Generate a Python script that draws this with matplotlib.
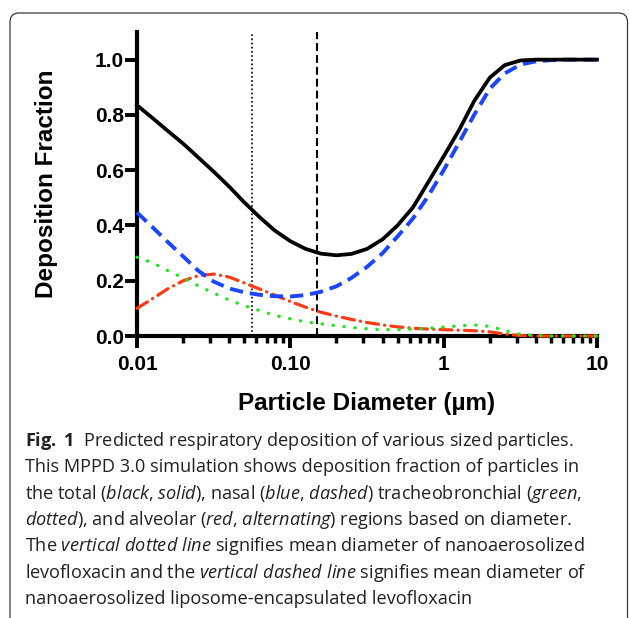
import matplotlib
matplotlib.use('Agg')
import matplotlib.pyplot as plt
from matplotlib.patches import FancyBboxPatch
from matplotlib.ticker import LogLocator, NullFormatter
import numpy as np

plt.rcParams['font.family'] = 'Liberation Sans'
plt.rcParams['mathtext.fontset'] = 'custom'
plt.rcParams['mathtext.rm'] = 'Open Sans'
plt.rcParams['mathtext.it'] = 'Open Sans:italic'
plt.rcParams['mathtext.bf'] = 'Open Sans:bold'

#### data
diam = [0.01, 0.0126, 0.0158, 0.02, 0.025, 0.0316, 0.04, 0.05, 0.063, 0.079,
        0.1, 0.126, 0.158, 0.2, 0.25, 0.316, 0.4, 0.5, 0.63, 0.79,
        1.0, 1.26, 1.58, 2.0, 2.5, 3.16, 4.0, 5.0, 6.3, 7.9, 10.0]

total = [0.835, 0.789, 0.743, 0.696, 0.647, 0.595, 0.540, 0.484, 0.430, 0.382,
         0.343, 0.315, 0.298, 0.292, 0.297, 0.315, 0.350, 0.400, 0.465, 0.555,
         0.650, 0.745, 0.850, 0.935, 0.980, 0.997, 1.0, 1.0, 1.0, 1.0, 1.0]

nasal = [0.447, 0.394, 0.341, 0.288, 0.237, 0.197, 0.172, 0.158, 0.149, 0.144,
         0.143, 0.148, 0.160, 0.180, 0.210, 0.250, 0.300, 0.360, 0.425, 0.505,
         0.600, 0.700, 0.800, 0.895, 0.950, 0.982, 0.994, 0.998, 1.0, 1.0, 1.0]

tracheo = [0.285, 0.265, 0.237, 0.21, 0.182, 0.155, 0.13, 0.11, 0.092, 0.075,
           0.062, 0.051, 0.044, 0.037, 0.031, 0.026, 0.023, 0.023, 0.025, 0.028,
           0.032, 0.037, 0.04, 0.035, 0.02, 0.006, 0.002, 0.0, 0.0, 0.0, 0.0]

alveolar = [0.10, 0.135, 0.17, 0.20, 0.218, 0.224, 0.213, 0.192, 0.17, 0.148,
            0.125, 0.104, 0.086, 0.072, 0.06, 0.049, 0.04, 0.033, 0.028, 0.025,
            0.023, 0.021, 0.019, 0.015, 0.007, 0.002, 0.0, 0.0, 0.0, 0.0, 0.0]

d_nano = 0.056   # nanoaerosolized levofloxacin (dotted)
d_lipo = 0.15    # liposome-encapsulated (dashed)

xtick_vals = [0.01, 0.1, 1, 10]
xtick_labels = ['0.01', '0.10', '1', '10']
ytick_vals = [0.0, 0.2, 0.4, 0.6, 0.8, 1.0]
ytick_labels = ['0.0', '0.2', '0.4', '0.6', '0.8', '1.0']

caption = [
    r"$\mathbf{Fig.}$ $\mathbf{1}$  Predicted respiratory deposition of various sized particles.",
    "This MPPD 3.0 simulation shows deposition fraction of particles in",
    r"the total ($\mathit{black}$, $\mathit{solid}$), nasal ($\mathit{blue}$, $\mathit{dashed}$) tracheobronchial ($\mathit{green}$,",
    r"$\mathit{dotted}$), and alveolar ($\mathit{red}$, $\mathit{alternating}$) regions based on diameter.",
    r"The $\mathit{vertical\ dotted\ line}$ signifies mean diameter of nanoaerosolized",
    r"levofloxacin and the $\mathit{vertical\ dashed\ line}$ signifies mean diameter of",
    "nanoaerosolized liposome-encapsulated levofloxacin",
]

W, H = 629, 618
fig = plt.figure(figsize=(W/100, H/100), dpi=100)
ax = fig.add_axes([137/W, 1-336/H, 460/W, 304/H])

ax.axvline(d_nano, color='k', lw=1.2, ls=(0, (1, 1.5)), zorder=1)
ax.axvline(d_lipo, color='k', lw=1.5, ls=(0, (3.8, 1.9)), zorder=1)

ax.plot(diam, alveolar, color='#ff3a14', lw=2.3, ls=(0, (3.8, 1.9, 0.1, 1.9)),
        dash_capstyle='round', clip_on=False, zorder=3)
ax.plot(diam, tracheo, color='#1fe61f', lw=2.4, ls=(0, (0.1, 3.2)),
        dash_capstyle='round', clip_on=False, zorder=3)
ax.plot(diam, nasal, color='#1a46ff', lw=2.8, ls=(0, (3.4, 1.8)),
        clip_on=False, zorder=3)
ax.plot(diam, total, color='black', lw=2.7, clip_on=False, zorder=4)

ax.set_xscale('log')
ax.set_xlim(0.01, 10)
ax.set_ylim(0, 1.1)
ax.set_xticks(xtick_vals, xtick_labels)
ax.xaxis.set_minor_locator(LogLocator(base=10, subs=np.arange(2, 10)))
ax.xaxis.set_minor_formatter(NullFormatter())
ax.set_yticks(ytick_vals, ytick_labels)

for s in ['top', 'right']:
    ax.spines[s].set_visible(False)
for s in ['left', 'bottom']:
    ax.spines[s].set_linewidth(3)

ax.tick_params(which='major', length=8.5, width=2.8, labelsize=15)
ax.tick_params(which='minor', length=5, width=2.5)
ax.tick_params(axis='x', which='major', pad=5)
ax.tick_params(axis='y', which='major', pad=1)
for lbl in ax.get_xticklabels() + ax.get_yticklabels():
    lbl.set_fontweight('bold')

ax.set_ylabel('Deposition Fraction', fontsize=17.5, fontweight='bold')
ax.yaxis.set_label_coords(-0.171, 0.5)
ax.set_xlabel('Particle Diameter (µm)', fontsize=17.5, fontweight='bold')
ax.xaxis.set_label_coords(0.5, -0.185)

# rounded frame (bottom runs off the page)
frame = FancyBboxPatch((0.10, -1.0), 6.175, 7.05,
                       boxstyle='round,pad=0,rounding_size=0.09',
                       transform=fig.dpi_scale_trans, fill=False,
                       edgecolor='#3a3a3a', lw=0.9)
fig.add_artist(frame)

# caption
cap = []
for i, line in enumerate(caption):
    t = fig.text(25/W, 1 - (446 + 26.3*i)/H, line, fontsize=12,
                 family='Open Sans', color='#231f20', ha='left', va='baseline')
    cap.append(t)
renderer = fig.canvas.get_renderer()
w = cap[4].get_window_extent(renderer).width
for t in cap:
    t.set_fontsize(12 * 560 / w)

fig.savefig('out.png', dpi=100)
